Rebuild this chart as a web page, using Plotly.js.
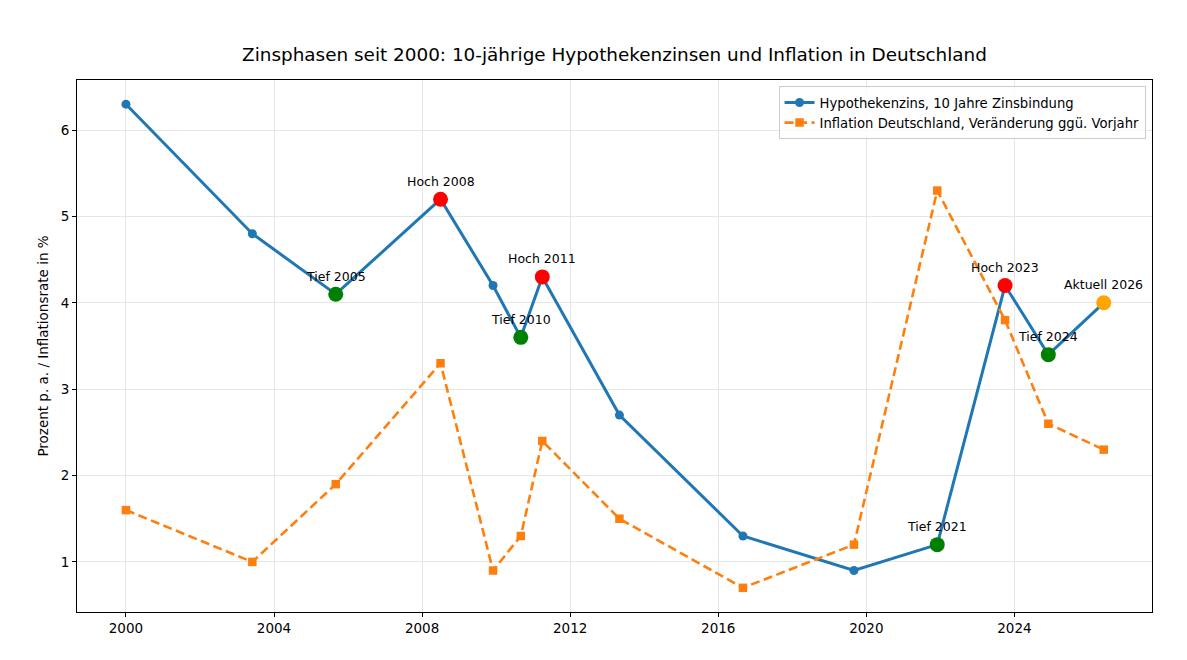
<!DOCTYPE html>
<html>
<head>
<meta charset="utf-8">
<script src="https://cdn.plot.ly/plotly-3.0.1.min.js"></script>
<style>html,body{margin:0;padding:0;background:#fff;}#chart{width:1187px;height:660px;}</style>
</head>
<body>
<div id="chart"></div>
<script>
const dates = ["2000-01-01","2003-06-01","2005-09-01","2008-07-01","2009-12-01","2010-09-01","2011-04-01","2013-05-01","2016-09-01","2019-09-01","2021-12-01","2023-10-01","2024-12-01","2026-06-01"];
const hypothek = [6.3, 4.8, 4.1, 5.2, 4.2, 3.6, 4.3, 2.7, 1.3, 0.9, 1.2, 4.2, 3.4, 4.0];
const inflation = [1.6, 1.0, 1.9, 3.3, 0.9, 1.3, 2.4, 1.5, 0.7, 1.2, 5.3, 3.8, 2.6, 2.3];
const hlIndex = [2, 3, 5, 6, 10, 11, 12, 13];
const hlLabels = ["Tief 2005", "Hoch 2008", "Tief 2010", "Hoch 2011", "Tief 2021", "Hoch 2023", "Tief 2024", "Aktuell 2026"];
const hlColors = ["green", "red", "green", "red", "green", "red", "green", "orange"];
const tickYears = ["2000","2004","2008","2012","2016","2020","2024"];

const font = "DejaVu Sans, sans-serif";
const traces = [
  {x: dates, y: hypothek, name: "Hypothekenzins, 10 Jahre Zinsbindung", mode: "lines+markers",
   line: {color: "#1f77b4", width: 3}, marker: {color: "#1f77b4", size: 9, symbol: "circle"}},
  {x: dates, y: inflation, name: "Inflation Deutschland, Veränderung ggü. Vorjahr", mode: "lines+markers",
   line: {color: "#ff7f0e", width: 2.6, dash: "9px,4.5px"}, marker: {color: "#ff7f0e", size: 8.5, symbol: "square"}},
  {x: hlIndex.map(i => dates[i]), y: hlIndex.map(i => hypothek[i]), mode: "markers", showlegend: false, hoverinfo: "skip",
   marker: {color: hlColors, size: 15, symbol: "circle"}}
];
const annotations = hlIndex.map((i, k) => ({
  x: dates[i], y: hypothek[i], text: hlLabels[k], showarrow: false, yshift: 18,
  font: {family: font, size: 12.5, color: "#000"}
}));
const layout = {
  width: 1187, height: 660,
  margin: {l: 77, r: 35, t: 80, b: 48},
  paper_bgcolor: "#fff", plot_bgcolor: "#fff",
  font: {family: font, color: "#000"},
  title: {text: "Zinsphasen seit 2000: 10-jährige Hypothekenzinsen und Inflation in Deutschland",
          font: {family: font, size: 18.4, color: "#000"}, xref: "paper", x: 0.5, xanchor: "center",
          yref: "container", y: 0.918, yanchor: "middle"},
  xaxis: {type: "date", range: ["1998-09-05", "2027-09-20"], tickvals: tickYears.map(y => y + "-01-01"), ticktext: tickYears,
          showgrid: true, gridcolor: "#e6e6e6", gridwidth: 1, zeroline: false,
          showline: true, linecolor: "#000", linewidth: 1, mirror: true,
          ticks: "outside", ticklen: 4, tickcolor: "#000", tickfont: {family: font, size: 13.5}},
  yaxis: {range: [0.42, 6.58], tickvals: [1,2,3,4,5,6], showgrid: true, gridcolor: "#e6e6e6", gridwidth: 1, zeroline: false,
          showline: true, linecolor: "#000", linewidth: 1, mirror: true,
          ticks: "outside", ticklen: 4, tickcolor: "#000", tickfont: {family: font, size: 13.5},
          title: {text: "Prozent p. a. / Inflationsrate in %", font: {family: font, size: 13.5}, standoff: 8}},
  legend: {x: 0.994, y: 0.988, xanchor: "right", yanchor: "top", bgcolor: "rgba(255,255,255,0.8)",
           bordercolor: "#cccccc", borderwidth: 1, font: {family: font, size: 13.2}, tracegroupgap: 0, itemwidth: 30},
  annotations: annotations,
  showlegend: true
};
Plotly.newPlot("chart", traces, layout, {staticPlot: true, displayModeBar: false});
</script>
</body>
</html>
